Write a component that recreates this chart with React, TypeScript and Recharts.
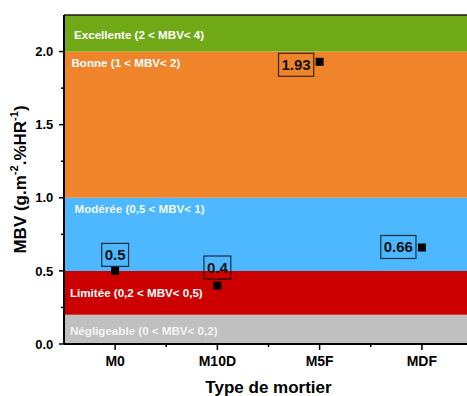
import React from 'react';
import { ScatterChart, Scatter, XAxis, YAxis, ReferenceArea, ReferenceLine } from 'recharts';

// ---------- data ----------
const categories = ['M0', 'M10D', 'M5F', 'MDF'];
const mbvValues = [0.5, 0.4, 1.93, 0.66];
const valueLabels = ['0.5', '0.4', '1.93', '0.66'];
const xTitle = 'Type de mortier';

const bandNames = [
  'Négligeable (0 < MBV< 0,2)',
  'Limitée (0,2 < MBV< 0,5)',
  'Modérée (0,5 < MBV< 1)',
  'Bonne (1 < MBV< 2)',
  'Excellente (2 < MBV< 4)',
];
const bandLower = [0, 0.2, 0.5, 1, 2];
const bandUpper = [0.2, 0.5, 1, 2, 4];

const yTicks = [0, 0.25, 0.5, 0.75, 1, 1.25, 1.5, 1.75, 2];
const xTicks = [1, 1.5, 2, 2.5, 3, 3.5, 4];

// ---------- styles ----------
const FONT = 'Arial, "Liberation Sans", Helvetica, sans-serif';
const bandColors = ['#C0C0C0', '#CC0000', '#4DB8FF', '#F0842A', '#6FAA16'];
const bandLabelStyle = [
  { dx: 6, anchor: 'center', dy: 1.5, opacity: 0.85 },
  { dx: 6, anchor: 'center', dy: 0, opacity: 1 },
  { dx: 10.5, anchor: 'top', dy: 11.5, opacity: 0.95 },
  { dx: 7.5, anchor: 'top', dy: 11, opacity: 1 },
  { dx: 10, anchor: 'bottom', dy: -16.5, opacity: 1 },
];
const labelPlacement: Record<string, [number, number]> = {
  M0: [0, -16],
  M10D: [0, -18],
  M5F: [-23.5, 3],
  MDF: [-23.5, -0.5],
};

const scatterData = categories.map((c, i) => ({
  x: i + 1,
  y: mbvValues[i],
  category: c,
  label: valueLabels[i],
}));

const BandLabel = (props: any) => {
  const { viewBox, text, dx, anchor, dy, opacity } = props;
  if (!viewBox) return null;
  const { x, y, height } = viewBox;
  const fs = 11.6;
  const cy = anchor === 'top' ? y + dy : anchor === 'bottom' ? y + height + dy : y + height / 2 + dy;
  return (
    <text
      x={x + dx}
      y={cy + 0.36 * fs}
      fill="#fff"
      fillOpacity={opacity}
      fontFamily={FONT}
      fontWeight="bold"
      fontSize={fs}
    >
      {text}
    </text>
  );
};

const textWidth = (s: string, fs: number) => {
  let w = 0;
  for (const ch of s) w += ch === '.' ? 0.278 : 0.556;
  return w * fs;
};

const PointShape = (props: any) => {
  const { cx, cy, payload } = props;
  if (cx == null || cy == null) return null;
  const [dx, dy] = labelPlacement[payload.category] || [0, -16];
  const fs = 15;
  const tw = textWidth(payload.label, fs);
  const bw = tw + 6;
  const bh = 23;
  const tx = cx + dx;
  const ty = cy + dy;
  return (
    <g>
      <rect x={cx - 4} y={cy - 4} width={8} height={8} fill="#000" />
      <rect
        x={tx - bw / 2}
        y={ty - bh / 2}
        width={bw}
        height={bh}
        fill="none"
        stroke="rgba(0,0,0,0.75)"
        strokeWidth={1.2}
      />
      <text
        x={tx}
        y={ty + 0.36 * fs}
        textAnchor="middle"
        fontFamily={FONT}
        fontWeight="bold"
        fontSize={fs}
        fill="#111"
      >
        {payload.label}
      </text>
    </g>
  );
};

const XTick = (props: any) => {
  const { x, y, payload } = props;
  const v = payload.value;
  const major = Number.isInteger(v);
  return (
    <g>
      <line x1={x} x2={x} y1={y} y2={y + (major ? 6 : 3)} stroke="#000" strokeWidth={1.5} />
      {major && (
        <text x={x} y={y + 22} textAnchor="middle" fontFamily={FONT} fontWeight="bold" fontSize={14} fill="#000">
          {categories[v - 1]}
        </text>
      )}
      {v === 2.5 && (
        <text x={x} y={y + 49} textAnchor="middle" fontFamily={FONT} fontWeight="bold" fontSize={17} fill="#000">
          {xTitle}
        </text>
      )}
    </g>
  );
};

const YTick = (props: any) => {
  const { x, y, payload } = props;
  const v = payload.value;
  const major = Math.abs(v * 2 - Math.round(v * 2)) < 1e-6;
  return (
    <g>
      <line x1={x} x2={x - (major ? 5 : 3)} y1={y} y2={y} stroke="#000" strokeWidth={1.5} />
      {major && (
        <text x={x - 10.7} y={y + 0.36 * 13} textAnchor="end" fontFamily={FONT} fontWeight="bold" fontSize={13} fill="#000">
          {v.toFixed(1)}
        </text>
      )}
    </g>
  );
};

const YTitle = (props: any) => {
  const { viewBox } = props;
  if (!viewBox) return null;
  const { x, y, height } = viewBox;
  const cx = x + 12;
  const cy = y + height / 2;
  const fs = 17;
  return (
    <text
      x={cx}
      y={cy}
      transform={`rotate(-90 ${cx} ${cy})`}
      textAnchor="middle"
      dominantBaseline="central"
      fontFamily={FONT}
      fontWeight="bold"
      fontSize={fs}
      fill="#000"
    >
      <tspan>MBV (g.m</tspan>
      <tspan fontSize={fs * 0.65} dy={-6}>-2</tspan>
      <tspan dy={6}>.%HR</tspan>
      <tspan fontSize={fs * 0.65} dy={-6}>-1</tspan>
      <tspan dy={6}>)</tspan>
    </text>
  );
};

export default function App() {
  return (
    <div style={{ position: 'fixed', left: 0, top: 0, width: 467, height: 396, overflow: 'hidden', background: '#fff' }}>
      <div style={{ position: 'absolute', left: 8, top: 8 }}>
        <ScatterChart width={465} height={388} margin={{ top: 7, right: 0, bottom: 0, left: 0 }}>
          {bandNames.map((name, i) => (
            <ReferenceArea
              key={name}
              x1={0.5}
              x2={4.5}
              y1={bandLower[i]}
              y2={bandUpper[i]}
              fill={bandColors[i]}
              fillOpacity={1}
              stroke="none"
              ifOverflow="hidden"
              label={<BandLabel text={name} {...bandLabelStyle[i]} />}
            />
          ))}
          <ReferenceLine y={2.25} stroke="#1a1a1a" strokeWidth={1.5} />
          <XAxis
            type="number"
            dataKey="x"
            domain={[0.5, 4.5]}
            ticks={xTicks}
            interval={0}
            allowDataOverflow
            height={52}
            tickSize={0}
            tickMargin={0}
            tickLine={false}
            axisLine={{ stroke: '#000', strokeWidth: 2 }}
            tick={<XTick />}
          />
          <YAxis
            type="number"
            dataKey="y"
            domain={[0, 2.25]}
            ticks={yTicks}
            interval={0}
            allowDataOverflow
            width={56}
            tickSize={0}
            tickMargin={0}
            tickLine={false}
            axisLine={{ stroke: '#000', strokeWidth: 2 }}
            tick={<YTick />}
            label={<YTitle />}
          />
          <Scatter data={scatterData} shape={<PointShape />} isAnimationActive={false} />
        </ScatterChart>
      </div>
    </div>
  );
}
